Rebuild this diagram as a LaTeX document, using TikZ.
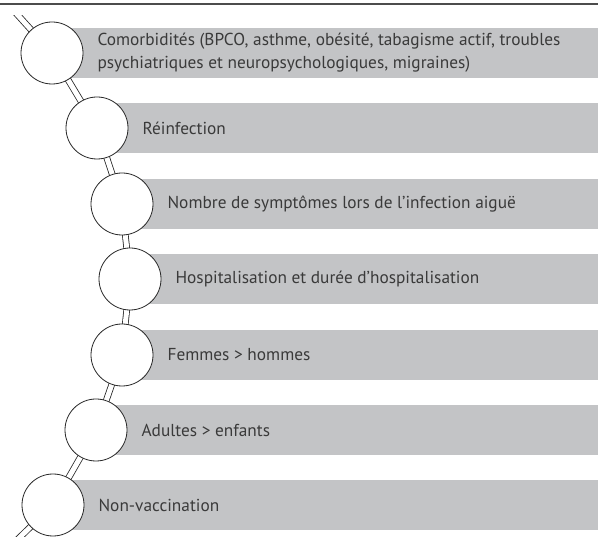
\documentclass[tikz,border=0pt]{standalone}
\usepackage{fontspec}
\setmainfont{PT Sans}
\tikzset{>=latex}
\usetikzlibrary{positioning}
\definecolor{bargray}{HTML}{C3C4C6}
\definecolor{inkgray}{HTML}{3A3A3A}
\pgfdeclarelayer{bars}
\pgfdeclarelayer{links}
\pgfsetlayers{bars,links,main}
\tikzset{
  bead/.style={draw=black!85, fill=white, circle, minimum size=62pt, inner sep=0pt, line width=0.8pt},
  link/.style={draw=black!85, double=white, double distance=5pt, line width=0.8pt},
  factor/.style={right=14pt of #1, text=inkgray, font=\fontsize{17.3}{23}\selectfont, align=left, inner sep=0pt},
  band/.style={fill=bargray}
}

\begin{document}
\begin{tikzpicture}[x=1pt, y=-1pt]
      \useasboundingbox (0,0) rectangle (598,545);
      \draw[black!70, line width=1.2pt] (0,4) -- (598,4);
      % beads of the chain
      \node[bead] (c1) at (52,53) {};
      \node[bead] (c2) at (97,128) {};
      \node[bead] (c3) at (122,204) {};
      \node[bead] (c4) at (130,279) {};
      \node[bead] (c5) at (122,355) {};
      \node[bead] (c6) at (96,430) {};
      \node[bead] (c7) at (53,505) {};
      \coordinate (top) at (15,12);
      \coordinate (bot) at (16,541);
      % grey bands
      \begin{pgfonlayer}{bars}
        \fill[band] (c1.center) ++(0,-25) rectangle (598,78);
        \fill[band] (c2.center) ++(0,-25) rectangle (598,153);
        \fill[band] (c3.center) ++(0,-25) rectangle (598,229);
        \fill[band] (c4.center) ++(0,-25) rectangle (598,304);
        \fill[band] (c5.center) ++(0,-25) rectangle (598,380);
        \fill[band] (c6.center) ++(0,-25) rectangle (598,455);
        \fill[band] (c7.center) ++(0,-25) rectangle (598,530);
      \end{pgfonlayer}
      % links between beads
      \begin{pgfonlayer}{links}
        \clip (0,16) rectangle (598,537);
        \draw[link] (top) -- (c1.center) -- (c2.center) -- (c3.center) -- (c4.center)
          -- (c5.center) -- (c6.center) -- (c7.center) -- (bot);
      \end{pgfonlayer}
      % texts
      \node[factor=c1] (t1) {Comorbidités (BPCO, asthme, obésité, tabagisme actif, troubles\\psychiatriques et neuropsychologiques, migraines)};
      \node[factor=c2] (t2) {Réinfection};
      \node[factor=c3] (t3) {Nombre de symptômes lors de l’infection aiguë};
      \node[factor=c4] (t4) {Hospitalisation et durée d’hospitalisation};
      \node[factor=c5] (t5) {Femmes > hommes};
      \node[factor=c6] (t6) {Adultes > enfants};
      \node[factor=c7] (t7) {Non-vaccination};
\end{tikzpicture}
\end{document}
